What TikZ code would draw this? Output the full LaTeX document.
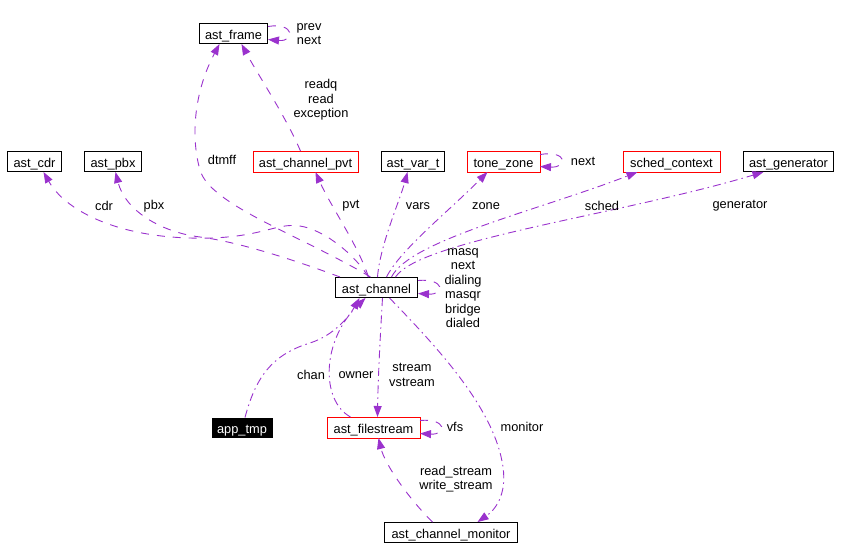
\documentclass[tikz,border=0pt]{standalone}
\usepackage{fontspec}
\setmainfont{Liberation Sans}
\usetikzlibrary{arrows.meta}
\definecolor{edgec}{HTML}{9A32CD}
\definecolor{boxred}{rgb}{1,0,0}
\begin{document}
\begin{tikzpicture}[x=1pt,y=-1pt,
  every node/.style={font=\fontsize{12.8}{14.5}\selectfont, inner sep=0pt},
  cls/.style={draw=black, line width=1pt, minimum height=20pt, fill=white, text height=12pt, text depth=0pt},
  redcls/.style={draw=none, line width=1pt, minimum height=20pt, fill=white, text height=12pt, text depth=0pt},
  redframe/.style={draw=boxred, color=boxred, line width=1pt},
  lbl/.style={align=center},
  rel/.style={draw=edgec, line width=0.9pt, dash pattern=on 8pt off 8pt, -{Triangle[length=11pt,width=8pt]}},
  reld/.style={rel, dash pattern=on 8pt off 4pt on 1.5pt off 4pt}]
\useasboundingbox (0,0) rectangle (860,558);
% classes
\node[cls, minimum width=68pt] (fr) at (233.5,33.5) {ast\_frame};
\node[cls, minimum width=54pt] (cdr) at (34.5,161.5) {ast\_cdr};
\node[cls, minimum width=57pt] (pbx) at (113,161.5) {ast\_pbx};
\node[redcls, minimum width=104pt] (pvt) at (305.5,161.5) {ast\_channel\_pvt};
\node[cls, minimum width=63pt] (var) at (413,161.5) {ast\_var\_t};
\node[redcls, minimum width=72pt] (tz) at (503.5,161.5) {tone\_zone};
\node[redcls, minimum width=96pt] (sc) at (671.5,161.5) {sched\_context};
\node[cls, minimum width=90pt] (gen) at (788.5,161.5) {ast\_generator};
\node[cls, minimum width=82pt] (ch) at (376.5,287.5) {ast\_channel};
\node[cls, fill=black, text=white, minimum width=60pt, minimum height=19pt] (app) at (242,427.5) {app\_tmp};
\node[redcls, minimum width=92pt] (fs) at (373.5,427.5) {ast\_filestream};
\node[cls, minimum width=133pt] (mon) at (451,532.5) {ast\_channel\_monitor};
% red frames
\draw[redframe] (pvt.south west) rectangle (pvt.north east);
\draw[redframe] (tz.south west) rectangle (tz.north east);
\draw[redframe] (sc.south west) rectangle (sc.north east);
\draw[redframe] (fs.south west) rectangle (fs.north east);
% self loops
\draw[rel] ([yshift=7pt]fr.east) .. controls (295,22) and (295,42) .. ([yshift=-6pt]fr.east);
\draw[rel] ([yshift=7pt]tz.east) .. controls (568,150) and (568,168) .. ([yshift=-5pt]tz.east);
\draw[rel] ([yshift=7pt]ch.east) .. controls (445,278) and (445,295) .. ([yshift=-6pt]ch.east);
\draw[rel] ([yshift=7pt]fs.east) .. controls (447,418) and (447,435) .. ([yshift=-6pt]fs.east);
% edges to ast_frame
\draw[rel] ([xshift=-6pt]ch.north) .. controls (300,235) and (210,205) .. (200,170)
  .. controls (190,135) and (195,90) .. ([xshift=-14pt]fr.south);
\draw[rel] ([xshift=-5pt]pvt.north) .. controls (285,115) and (258,75) .. ([xshift=8pt]fr.south);
% edges from ast_channel upward
\draw[rel] ([xshift=-8pt]ch.north) .. controls (358,245) and (330,205) .. ([xshift=10pt]pvt.south);
\draw[rel] ([xshift=-8pt]ch.north) .. controls (355,255) and (325,230) .. (300,226)
  .. controls (275,222) and (260,240) .. (190,238)
  .. controls (115,236) and (65,210) .. ([xshift=9pt]cdr.south);
\draw[rel] ([xshift=5pt]ch.north west) .. controls (300,262) and (240,242) .. (200,237)
  .. controls (160,232) and (125,210) .. ([xshift=2.5pt]pbx.south);
\draw[reld] ([xshift=1pt]ch.north) .. controls (380,245) and (400,200) .. ([xshift=-5.5pt]var.south);
\draw[reld] ([xshift=10pt]ch.north) .. controls (400,250) and (450,210) .. ([xshift=-16pt]tz.south);
\draw[reld] ([xshift=15pt]ch.north) .. controls (410,240) and (540,210) .. ([xshift=-34pt]sc.south);
\draw[reld] ([xshift=19pt]ch.north) .. controls (420,240) and (620,215) .. ([xshift=-25pt]gen.south);
% lower edges
\draw[reld] ([xshift=3pt]app.north) .. controls (255,380) and (270,355) .. (310,343)
  .. controls (335,335) and (350,315) .. ([xshift=-17pt]ch.south);
\draw[reld] ([xshift=-23pt]fs.north) .. controls (320,400) and (322,340) .. ([xshift=-11pt]ch.south);
\draw[reld] ([xshift=6pt]ch.south) .. controls (380,340) and (378,380) .. ([xshift=4pt]fs.north);
\draw[reld] ([xshift=13pt]ch.south) .. controls (440,350) and (495,410) .. (503,467)
  .. controls (507,495) and (495,510) .. ([xshift=26.5pt]mon.north);
\draw[rel] ([xshift=-18.5pt]mon.north) .. controls (410,500) and (385,465) .. ([xshift=5pt]fs.south);
% labels
\node[lbl] (lfr) at (309,34) {prev\\next};
\node[lbl] (lrd) at (321,100) {readq\\read\\exception};
\node[lbl] (ldt) at (222,160) {dtmff};
\node[lbl] (lcdr) at (104,206) {cdr};
\node[lbl] (lpbx) at (154,206) {pbx};
\node[lbl] (lpvt) at (351,206) {pvt};
\node[lbl] (lvar) at (418,206) {vars};
\node[lbl] (lzone) at (486,206) {zone};
\node[lbl] (lsc) at (602,206) {sched};
\node[lbl] (lgen) at (740,206) {generator};
\node[lbl] (ltz) at (583,161) {next};
\node[lbl] (lch) at (463,288) {masq\\next\\dialing\\masqr\\bridge\\dialed};
\node[lbl] (lchan) at (311,375) {chan};
\node[lbl] (lown) at (356,375) {owner};
\node[lbl] (lstr) at (412,375) {stream\\vstream};
\node[lbl] (lvfs) at (455,427) {vfs};
\node[lbl] (lmon) at (522,427) {monitor};
\node[lbl] (lrw) at (456,479) {read\_stream\\write\_stream};
\end{tikzpicture}
\end{document}
